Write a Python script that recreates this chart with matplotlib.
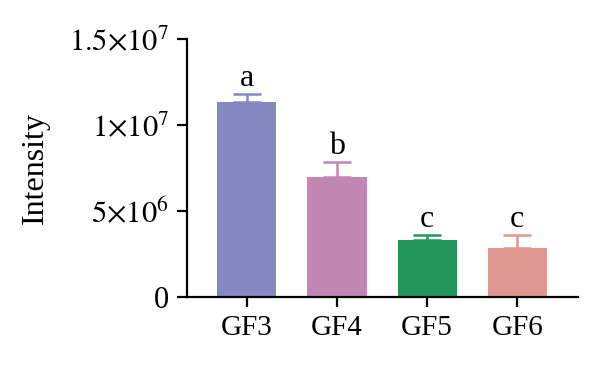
import matplotlib
matplotlib.use("Agg")
import matplotlib.pyplot as plt
from matplotlib.ticker import FixedLocator, FixedFormatter

plt.rcParams['font.family'] = ['Liberation Serif', 'DejaVu Serif']
plt.rcParams['mathtext.fontset'] = 'stix'

# data
groups = ['GF3', 'GF4', 'GF5', 'GF6']
means = [11.34e6, 7.0e6, 3.3e6, 2.87e6]
errs = [0.45e6, 0.83e6, 0.29e6, 0.74e6]
letters = ['a', 'b', 'c', 'c']
colors = ['#8589C2', '#C286B4', '#23955B', '#E09892']
yticks = [0, 5e6, 1e7, 1.5e7]
ytick_labels = ['0', r'$5{\times}10^{6}$', r'$1{\times}10^{7}$', r'$1.5{\times}10^{7}$']

fig = plt.figure(figsize=(6, 3.68), dpi=100)
ax = fig.add_axes([0.312, 0.193, 0.652, 0.701])

x = range(len(groups))
ax.bar(x, means, width=0.656, color=colors, zorder=2)
for i in x:
    ax.errorbar(i, means[i], yerr=[[0], [errs[i]]], fmt='none',
                ecolor=colors[i], elinewidth=1.8, capsize=10, capthick=1.8, zorder=1)
    ax.annotate(letters[i], (i, means[i] + errs[i]), xytext=(0, 6),
                textcoords='offset points', ha='center', va='baseline', fontsize=23)

ax.set_xlim(-0.663, 3.68)
ax.set_ylim(0, 1.5e7)
ax.set_xticks(list(x))
ax.set_xticklabels(groups, fontsize=21)
ax.yaxis.set_major_locator(FixedLocator(yticks))
ax.yaxis.set_major_formatter(FixedFormatter(ytick_labels))
ax.tick_params(axis='y', labelsize=22)
ax.tick_params(width=1.6, length=7, direction='out', pad=6)
ax.set_ylabel('Intensity', fontsize=23, labelpad=14)

for s in ['top', 'right']:
    ax.spines[s].set_visible(False)
for s in ['left', 'bottom']:
    ax.spines[s].set_linewidth(1.6)

fig.savefig('out.png', dpi=100)
